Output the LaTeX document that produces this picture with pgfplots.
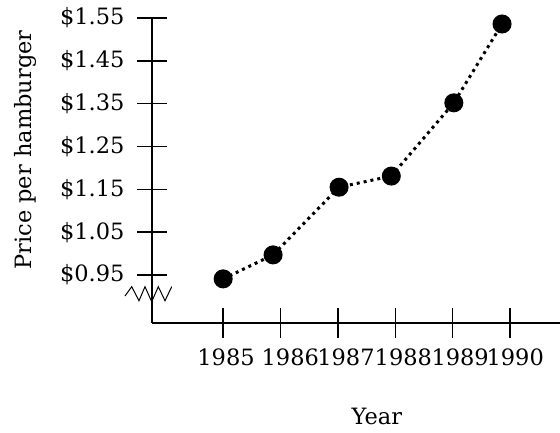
\documentclass[border=0pt]{standalone}
\usepackage{fontspec}
\setmainfont{DejaVu Serif}
\usepackage{pgfplots}
\pgfplotsset{compat=1.18}
\begin{document}
\begin{tikzpicture}
\useasboundingbox (-152pt,-109pt) rectangle (408pt,323pt);
\begin{axis}[
  at={(0,0)}, anchor=south west,
  scale only axis, width=408pt, height=305pt,
  xmin=1983.76, xmax=1990.87, ymin=0.838, ymax=1.55,
  axis lines=left, axis line style={-, line width=1.6pt},
  tick align=center, major tick length=30pt,
  tick style={line width=1.6pt, black},
  /pgf/number format/assume math mode=true,
  tick label style={font=\fontsize{22.5pt}{26pt}\selectfont},
  label style={font=\fontsize{22.5pt}{26pt}\selectfont},
  xtick={1985,1986,1987,1988,1989,1990}, xticklabels={},
  extra x ticks={1985.05,1986.17,1987.14,1988.14,1989.13,1990.09},
  extra x tick labels={1985,1986,1987,1988,1989,1990},
  extra x tick style={major tick length=0pt, tick label style={yshift=-22pt}},
  ytick={0.95,1.05,1.15,1.25,1.35,1.45,1.55},
  yticklabels={\$0.95,\$1.05,\$1.15,\$1.25,\$1.35,\$1.45,\$1.55},
  yticklabel style={xshift=-9pt},
  ylabel={Price per hamburger}, xlabel={Year},
  ylabel style={at={(axis description cs:-0.310,0.567)}, anchor=center},
  xlabel style={at={(axis description cs:0.551,-0.305)}, anchor=center},
  clip=false,
]
\addplot[black, line width=3pt, dash pattern=on 3pt off 4pt,
  mark=*, mark size=8pt, mark options={solid}] coordinates {
  (1985.00,0.941) (1985.87,0.997) (1987.02,1.155)
  (1987.93,1.181) (1989.02,1.352) (1989.86,1.536)
};
\end{axis}
\draw[line width=1pt] (-27pt,27pt) -- (-20.3pt,36.3pt) -- (-13pt,22.3pt) -- (-7pt,36.3pt)
  -- (-0.3pt,21.3pt) -- (6.3pt,36.3pt) -- (13pt,22.3pt) -- (19.7pt,36.3pt);
\end{tikzpicture}
\end{document}
